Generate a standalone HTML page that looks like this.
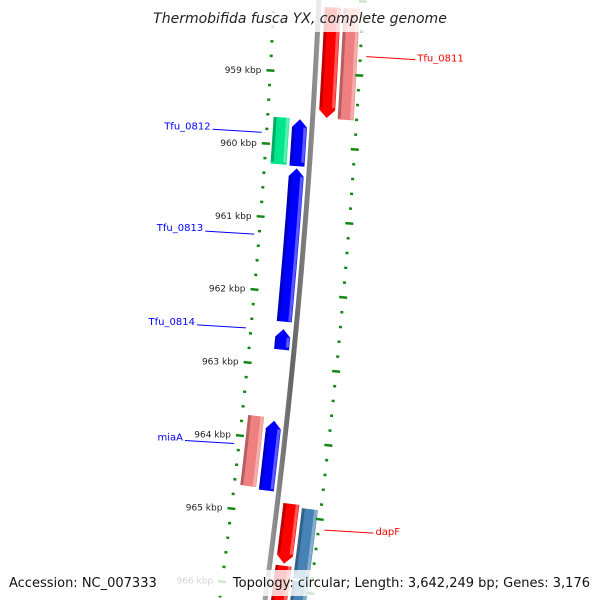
<!DOCTYPE html>
<html><head><meta charset="utf-8"><style>
html,body{margin:0;padding:0;background:#fff}
svg{display:block}
text{font-family:"DejaVu Sans","Liberation Sans",sans-serif}
</style></head><body>
<svg id="map" width="600" height="600" viewBox="0 0 600 600" xmlns="http://www.w3.org/2000/svg">
<defs>
<linearGradient id="bbg" x1="0" x2="1" y1="0" y2="0">
<stop offset="0" stop-color="#aaa"/><stop offset="0.5" stop-color="#666"/><stop offset="1" stop-color="#999"/></linearGradient>
</defs>
<g id="backbone-layer"></g>
<g id="features"></g>
<g id="ticks"></g>
<g id="labels"></g>
<rect x="0" y="0" width="600" height="32" fill="#fff" opacity="0.8"/>
<text x="300" y="23" text-anchor="middle" font-size="14" font-style="italic" fill="#222">Thermobifida fusca YX, complete genome</text>
<rect x="0" y="570" width="600" height="26" fill="#fff" opacity="0.8"/>
<text x="9" y="587" font-size="13" fill="#111">Accession: NC_007333</text>
<text x="590" y="587" text-anchor="end" font-size="13" fill="#111">Topology: circular; Length: 3,642,249 bp; Genes: 3,176</text>
</svg>
<script>
// data
const geneNames = ["Tfu_0811","pink1","green1","Tfu_0812","Tfu_0813","Tfu_0814","pink2","miaA","dapF","steel1","red2","steel2"];
const geneStart = [958.10,958.10,959.63,959.64,960.31,962.50,963.71,963.75,964.84,964.88,965.68,965.86];
const geneEnd   = [959.60,959.61,960.27,960.28,962.40,962.78,964.67,964.70,965.65,965.83,966.40,966.40];
const geneTrack = [1,2,-2,-1,-1,-1,-2,-1,1,2,1,2];
const geneStrand= [-1,0,0,1,1,1,0,1,-1,0,0,0];
const geneColor = ["#ff0000","#f08080","#00e68a","#0000ff","#0000ff","#0000ff","#f08080","#0000ff","#ff0000","#4682b4","#ff0000","#4682b4"];
const labelGenes = ["Tfu_0811","Tfu_0812","Tfu_0813","Tfu_0814","miaA","dapF"];
const labelColor = ["#ff0000","#0000ff","#0000ff","#0000ff","#0000ff","#ff0000"];
const labelSide  = [1,-1,-1,-1,-1,1];
const kbpTicks = [959,960,961,962,963,964,965,966];

const NS="http://www.w3.org/2000/svg";
function mk(t,a,p){const e=document.createElementNS(NS,t);for(const k in a)e.setAttribute(k,a[k]);p.appendChild(e);return e;}
// axis: kbp -> along-curve parameter y0
function kY(k){return 73+(k-959)*73.5;}
function bx(y){return 319-0.045*y-0.000075*y*y;}
function pt(y0,d){const s=-(0.045+0.00015*y0);const n=Math.sqrt(1+s*s);return [bx(y0)+d/n, y0-d*s/n];}
const trackD={1:[6,22],2:[25,41],"-1":[-20,-5],"-2":[-39,-23]};

// backbone
const bb=document.getElementById('backbone-layer');
let pl=[],pr=[];
for(let y=-10;y<=610;y+=10){const a=pt(y,-2.5),b=pt(y,2.5);pl.push(a.join(','));pr.unshift(b.join(','));}
const bbe=mk('polygon',{points:pl.concat(pr).join(' '),fill:'url(#bbg)'},bb);



// features
const fg=document.getElementById('features');
for(let i=0;i<geneNames.length;i++){
  const d=trackD[geneTrack[i]];const y1=kY(geneStart[i]),y2=kY(geneEnd[i]);
  const mid=(d[0]+d[1])/2;let L=[],R=[];
  let ys=y1,ye=y2;
  if(geneStrand[i]===1)ys=y1+8;
  if(geneStrand[i]===-1)ye=y2-8;
  for(let y=ys;y<=ye;y+=5){L.push(pt(y,d[0]));R.push(pt(y,d[1]));}
  L.push(pt(ye,d[0]));R.push(pt(ye,d[1]));
  let P=[];
  if(geneStrand[i]===1)P.push(pt(y1,mid));
  P=P.concat(R);
  if(geneStrand[i]===-1)P.push(pt(y2,mid));
  P=P.concat(L.reverse());
  const g=mk('g',{},fg);
  
  
  mk('polygon',{points:P.map(p=>p.join(',')).join(' '),fill:geneColor[i]},g);
  // shading stripes
  let S=[];for(let y=ys;y<=ye;y+=5)S.push(pt(y,d[0]+1.5).join(','));
  mk('polyline',{points:S.join(' '),fill:'none',stroke:'#000',"stroke-opacity":0.25,"stroke-width":3},g);
  let H=[];for(let y=ys;y<=ye;y+=5)H.push(pt(y,d[1]-2).join(','));
  mk('polyline',{points:H.join(' '),fill:'none',stroke:'#fff',"stroke-opacity":0.35,"stroke-width":3},g);
}

// ticks on both rings
const tg=document.getElementById('ticks');
for(let k=957.8;k<=966.5;k+=0.2){
  const kk=Math.round(k*10)/10;const major=Math.abs(kk-Math.round(kk))<0.01;
  [-45,44].forEach(d=>{
    const y=kY(kk);const a=pt(y,d-(major?4:1.5)),b=pt(y,d+(major?4:1.5));
    const t=mk('line',{x1:a[0],y1:a[1],x2:b[0],y2:b[1],stroke:'#118811',"stroke-width":2.5},tg);
    
    
  });
}
kbpTicks.forEach(k=>{
  const p=pt(kY(k),-54);
  const t=mk('text',{x:p[0],y:p[1]+3,"text-anchor":"end","font-size":"9",fill:"#222"},tg);
  t.textContent=k+' kbp';
  
  
});

// labels
const lg=document.getElementById('labels');
labelGenes.forEach((n,j)=>{
  const i=geneNames.indexOf(n);const y=(kY(geneStart[i])+kY(geneEnd[i]))/2;
  const side=labelSide[j];
  const a=pt(y-8,side>0?50:-50);
  const b=[a[0]+side*49,a[1]+(side>0?3:-3)];
  const g=mk('g',{},lg);
  
  
  mk('line',{x1:a[0],y1:a[1],x2:b[0],y2:b[1],stroke:labelColor[j],"stroke-width":1},g);
  const t=mk('text',{x:b[0]+side*2,y:b[1]+(side>0?2:0),"text-anchor":side>0?"start":"end","font-size":"10",fill:labelColor[j]},g);
  t.textContent=n;
});
</script>
</body></html>
